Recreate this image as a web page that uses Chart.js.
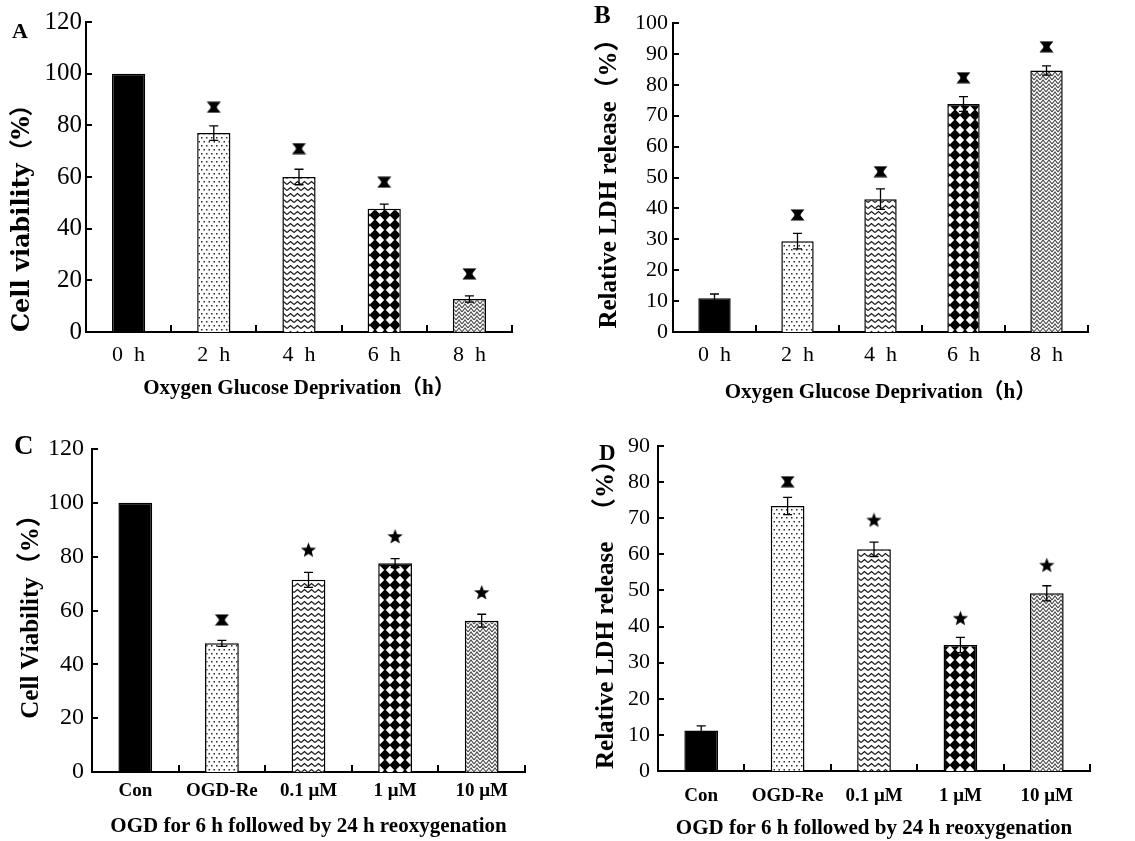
<!DOCTYPE html>
<html>
<head>
<meta charset="utf-8">
<script src="https://cdn.jsdelivr.net/npm/chart.js@4.4.0/dist/chart.umd.min.js"></script>
<style>
  html, body { margin: 0; padding: 0; background: #fff; }
  body { width: 1135px; height: 841px; position: relative; overflow: hidden; }
  canvas { position: absolute; }
</style>
</head>
<body>
<canvas id="panelA" width="560" height="420" style="left:0;top:0"></canvas>
<canvas id="panelB" width="575" height="420" style="left:560px;top:0"></canvas>
<canvas id="panelC" width="560" height="421" style="left:0;top:420px"></canvas>
<canvas id="panelD" width="575" height="421" style="left:560px;top:420px"></canvas>
<script>
// ---- data ----
const hourLabels = ['0  h', '2  h', '4  h', '6  h', '8  h'];
const doseLabels = ['Con', 'OGD-Re', '0.1 μM', '1 μM', '10 μM'];

const viabilityOGD = [100, 77, 60, 47.7, 12.8];
const viabilityOGDErr = [0, 2.8, 3, 1.8, 1.2];
const viabilityOGDSig = [null, 87, 71, 58, 22.5];

const ldhOGD = [10.9, 29.4, 43.0, 73.8, 84.6];
const ldhOGDErr = [1.4, 2.5, 3.3, 2.4, 1.5];
const ldhOGDSig = [null, 37.9, 51.9, 82.3, 92.3];

const viabilityRe = [100, 47.8, 71.4, 77.6, 56.2];
const viabilityReErr = [0, 1.1, 2.8, 1.7, 2.4];
const viabilityReSig = [null, 56.5, 82.5, 87.5, 66.7];

const ldhRe = [11.2, 73.4, 61.4, 34.9, 49.2];
const ldhReErr = [1.3, 2.4, 2.0, 2.1, 2.1];
const ldhReSig = [null, 80.1, 69.5, 42.3, 57];

const marksOGD = ['', '**', '**', '**', '**'];
const marksRe = ['', '**', '*', '*', '*'];

Chart.defaults.color = '#000';

const SERIF = "'Liberation Serif', 'Noto Sans CJK SC', serif";
const WIDE_SERIF = "'DejaVu Serif', 'Noto Sans CJK SC', serif";

// ---- fill patterns ----
function makeTile(w, h, draw) {
  const c = document.createElement('canvas');
  c.width = w; c.height = h;
  const g = c.getContext('2d');
  g.fillStyle = '#fff';
  g.fillRect(0, 0, w, h);
  draw(g, w, h);
  return c;
}

const dotTile = makeTile(5, 8, g => {
  g.fillStyle = '#2a2a2a';
  g.fillRect(1, 1, 1.5, 1.5);
  g.fillRect(3.5, 5, 1.5, 1.5);
});

const waveTile = makeTile(7, 6, (g, w, h) => {
  g.strokeStyle = '#1a1a1a';
  g.lineWidth = 1.3;
  for (const dy of [-h, 0, h]) {
    g.beginPath();
    g.moveTo(0, 4.5 + dy); g.lineTo(3.5, 1.5 + dy); g.lineTo(7, 4.5 + dy);
    g.stroke();
  }
});

const diamondTile = makeTile(10, 10, g => {
  g.fillStyle = '#000';
  g.beginPath();
  g.moveTo(5, -0.8); g.lineTo(10.8, 5); g.lineTo(5, 10.8); g.lineTo(-0.8, 5);
  g.closePath();
  g.fill();
});

const herringTile = makeTile(6, 4, (g, w, h) => {
  g.strokeStyle = '#4a4a4a';
  g.lineWidth = 1.1;
  for (const dy of [-h, 0, h]) {
    g.beginPath();
    g.moveTo(0, 4 + dy); g.lineTo(3, 0 + dy); g.lineTo(6, 4 + dy);
    g.stroke();
  }
});

function barFills(ctx) {
  return [
    '#000',
    ctx.createPattern(dotTile, 'repeat'),
    ctx.createPattern(waveTile, 'repeat'),
    ctx.createPattern(diamondTile, 'repeat'),
    ctx.createPattern(herringTile, 'repeat')
  ];
}

// ---- significance markers ----
const doubleStar = makeTile(15, 12, g => {
  g.clearRect(0, 0, 15, 12);
  g.fillStyle = '#000';
  g.beginPath();
  g.moveTo(0.5, 0.5); g.lineTo(14.5, 0.5); g.lineTo(10, 6);
  g.lineTo(14.5, 11.5); g.lineTo(0.5, 11.5); g.lineTo(5, 6);
  g.closePath();
  g.fill();
  g.fillRect(4.5, 5, 6, 2);
});

const singleStar = makeTile(17, 17, g => {
  g.clearRect(0, 0, 17, 17);
  g.fillStyle = '#000';
  g.beginPath();
  for (let k = 0; k < 10; k++) {
    const r = k % 2 === 0 ? 8 : 3.4;
    const a = -Math.PI / 2 + k * Math.PI / 5;
    const px = 8.5 + r * Math.cos(a), py = 9 + r * Math.sin(a);
    if (k === 0) g.moveTo(px, py); else g.lineTo(px, py);
  }
  g.closePath();
  g.fill();
});

function markerFor(m) {
  if (m === '**') return doubleStar;
  if (m === '*') return singleStar;
  return false;
}

// ---- plugins ----
const errorBars = {
  id: 'errorBars',
  afterDatasetsDraw(chart) {
    const meta = chart.getDatasetMeta(0);
    const ds = chart.data.datasets[0];
    const y = chart.scales.y;
    const c = chart.ctx;
    c.save();
    c.strokeStyle = '#000';
    c.lineWidth = 1.3;
    meta.data.forEach((bar, i) => {
      const e = ds.errors[i];
      if (!e) return;
      const v = ds.data[i];
      const top = y.getPixelForValue(v + e);
      const bot = y.getPixelForValue(v - e);
      c.beginPath();
      c.moveTo(bar.x, top); c.lineTo(bar.x, bot);
      c.moveTo(bar.x - 4.5, top); c.lineTo(bar.x + 4.5, top);
      c.moveTo(bar.x - 4.5, bot); c.lineTo(bar.x + 4.5, bot);
      c.stroke();
    });
    c.restore();
  }
};

const innerTicks = {
  id: 'innerTicks',
  afterDraw(chart) {
    const {ctx, chartArea: a, scales: {x, y}} = chart;
    ctx.save();
    ctx.strokeStyle = '#000';
    ctx.lineWidth = 2;
    ctx.beginPath();
    y.ticks.forEach(t => {
      const py = Math.round(y.getPixelForValue(t.value));
      ctx.moveTo(a.left, py); ctx.lineTo(a.left + 6, py);
    });
    const n = x.ticks.length;
    for (let i = 1; i <= n; i++) {
      const px = Math.round(x.left + i * x.width / n);
      ctx.moveTo(px, a.bottom); ctx.lineTo(px, a.bottom - 7);
    }
    ctx.stroke();
    ctx.restore();
  }
};

const panelLetter = {
  id: 'panelLetter',
  afterDraw(chart, args, opts) {
    const c = chart.ctx;
    c.save();
    c.fillStyle = '#000';
    c.font = 'bold ' + opts.size + 'px ' + SERIF;
    c.textBaseline = 'middle';
    c.fillText(opts.text, opts.x, opts.y);
    c.restore();
  }
};

// ---- one panel ----
function makePanel(id, p) {
  const canvas = document.getElementById(id);
  const ctx = canvas.getContext('2d');
  return new Chart(ctx, {
    type: 'bar',
    data: {
      labels: p.labels,
      datasets: [
        {
          type: 'bar',
          data: p.values,
          errors: p.errors,
          backgroundColor: barFills(ctx),
          borderColor: '#000',
          borderWidth: 1.5,
          barPercentage: 0.39,
          categoryPercentage: 1
        },
        {
          type: 'line',
          data: p.sig,
          showLine: false,
          pointRadius: 7,
          pointStyle: c => markerFor(p.marks[c.dataIndex])
        }
      ]
    },
    options: {
      responsive: false,
      animation: false,
      devicePixelRatio: 1,
      layout: { padding: { left: 0, top: p.area.top, right: canvas.width - p.area.right, bottom: 0 } },
      plugins: {
        legend: { display: false },
        tooltip: { enabled: false },
        panelLetter: p.letter
      },
      scales: {
        x: {
          grid: { display: false, drawTicks: false },
          border: { color: '#000', width: 2 },
          ticks: { font: p.xTickFont, padding: p.xTickPad, maxRotation: 0 },
          title: { display: true, text: p.xTitle, font: { family: SERIF, size: p.xTitleSize, weight: 'bold' }, padding: { top: 0, bottom: p.xTitlePad } },
          afterFit: s => { s.height = canvas.height - p.area.bottom; }
        },
        y: {
          min: 0,
          max: p.yMax,
          grid: { display: false, drawTicks: false },
          border: { color: '#000', width: 2 },
          ticks: { stepSize: p.yStep, font: { family: SERIF, size: p.yTickSize }, padding: p.yTickPad },
          title: { display: true, text: p.yTitle, align: p.yTitleAlign, font: { family: p.yTitleFamily || SERIF, size: p.yTitleSize, weight: 'bold' }, padding: { top: p.yTitlePad, bottom: 0 } },
          afterFit: s => { s.width = p.area.left; }
        }
      }
    },
    plugins: [errorBars, innerTicks, panelLetter]
  });
}

makePanel('panelA', {
  labels: hourLabels, values: viabilityOGD, errors: viabilityOGDErr, sig: viabilityOGDSig, marks: marksOGD,
  area: { left: 86, right: 512, top: 22, bottom: 332 },
  yMax: 120, yStep: 20, yTickSize: 25, yTickPad: 4,
  xTickFont: { family: SERIF, size: 22 }, xTickPad: 10,
  xTitle: 'Oxygen Glucose Deprivation（h）', xTitleSize: 21, xTitlePad: 19,
  yTitle: 'Cell viability（%）', yTitleSize: 24, yTitlePad: 8, yTitleAlign: 'start', yTitleFamily: WIDE_SERIF,
  letter: { text: 'A', x: 12, y: 32, size: 22 }
});

makePanel('panelB', {
  labels: hourLabels, values: ldhOGD, errors: ldhOGDErr, sig: ldhOGDSig, marks: marksOGD,
  area: { left: 113, right: 528, top: 23, bottom: 332 },
  yMax: 100, yStep: 10, yTickSize: 22, yTickPad: 5,
  xTickFont: { family: SERIF, size: 22 }, xTickPad: 10,
  xTitle: 'Oxygen Glucose Deprivation（h）', xTitleSize: 21, xTitlePad: 15,
  yTitle: 'Relative LDH release（%）', yTitleSize: 25, yTitlePad: 35, yTitleAlign: 'center',
  letter: { text: 'B', x: 34, y: 17, size: 25 }
});

makePanel('panelC', {
  labels: doseLabels, values: viabilityRe, errors: viabilityReErr, sig: viabilityReSig, marks: marksRe,
  area: { left: 92, right: 525, top: 29, bottom: 352 },
  yMax: 120, yStep: 20, yTickSize: 24, yTickPad: 8,
  xTickFont: { family: SERIF, size: 19, weight: 'bold' }, xTickPad: 8,
  xTitle: 'OGD for 6 h followed by 24 h reoxygenation', xTitleSize: 21, xTitlePad: 2,
  yTitle: 'Cell Viability（%）', yTitleSize: 25, yTitlePad: 17, yTitleAlign: 'center',
  letter: { text: 'C', x: 14, y: 27, size: 27 }
});

makePanel('panelD', {
  labels: doseLabels, values: ldhRe, errors: ldhReErr, sig: ldhReSig, marks: marksRe,
  area: { left: 98, right: 530, top: 26, bottom: 351 },
  yMax: 90, yStep: 10, yTickSize: 22, yTickPad: 8,
  xTickFont: { family: SERIF, size: 19, weight: 'bold' }, xTickPad: 14,
  xTitle: 'OGD for 6 h followed by 24 h reoxygenation', xTitleSize: 21, xTitlePad: 0,
  yTitle: 'Relative LDH release   （%）', yTitleSize: 25, yTitlePad: 32, yTitleAlign: 'center',
  letter: { text: 'D', x: 39, y: 34, size: 23 }
});
</script>
</body>
</html>
